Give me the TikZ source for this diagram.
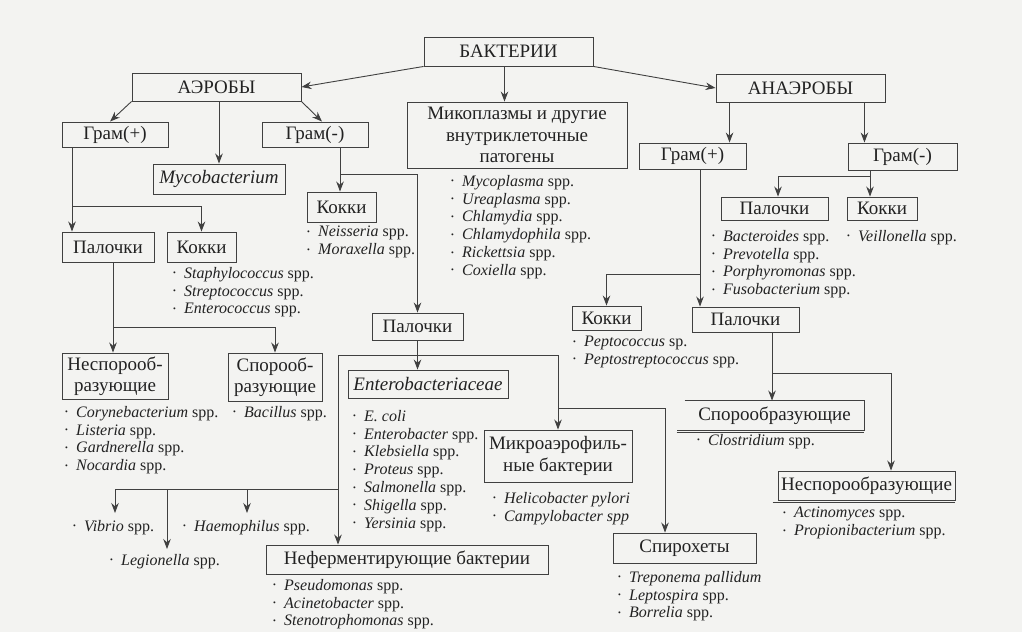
\documentclass[tikz,border=0pt]{standalone}
\usepackage{fontspec}
\setmainfont{Liberation Serif}
\usetikzlibrary{arrows.meta}
\definecolor{ink}{HTML}{222222}
\definecolor{wire}{HTML}{404040}
\definecolor{paper}{HTML}{F3F3F1}
\newcommand{\dotitem}{\makebox[11pt][l]{\raisebox{2.5pt}{\fontsize{8}{8}\selectfont•}}}

\begin{document}
\begin{tikzpicture}[x=1pt,y=-1pt,
  box/.style={draw=wire,line width=0.9pt,text=ink,inner sep=0pt,align=center,
    font=\fontsize{19}{21.5}\selectfont},
  spp/.style={anchor=north west,inner sep=0pt,align=left,text=ink,
    font=\fontsize{16}{17.8}\selectfont},
  link/.style={draw=wire,line width=0.9pt},
  arr/.style={link,-{Stealth[length=10pt,width=7.5pt]}}]
  \fill[paper] (0,0) rectangle (1022,632);
  \useasboundingbox (0,0) rectangle (1022,632);

  % top level
  \node[box,minimum width=169pt,minimum height=29pt] (bact) at (508.5,51.5) {БАКТЕРИИ};
  \node[box,minimum width=169pt,minimum height=28pt] (aer) at (216.5,87) {АЭРОБЫ};
  \node[box,minimum width=169pt,minimum height=28pt] (anaer) at (800.5,88) {АНАЭРОБЫ};
  \node[box,minimum width=220pt,minimum height=66pt] (myco) at (517,135) {Микоплазмы и другие\\внутриклеточные\\патогены};
  \node[spp] (mycol) at (451,175) {\dotitem\textit{Mycoplasma} spp.\\\dotitem\textit{Ureaplasma} spp.\\\dotitem\textit{Chlamydia} spp.\\\dotitem\textit{Chlamydophila} spp.\\\dotitem\textit{Rickettsia} spp.\\\dotitem\textit{Coxiella} spp.};

  % aerobes
  \node[box,minimum width=106pt,minimum height=25pt] (agp) at (115,134.5) {Грам(+)};
  \node[box,minimum width=132pt,minimum height=30pt] (mycob) at (219,179) {\textit{Mycobacterium}};
  \node[box,minimum width=106pt,minimum height=25pt] (agn) at (315,134.5) {Грам(-)};
  \node[box,minimum width=92pt,minimum height=30pt] (apal) at (108,247) {Палочки};
  \node[box,minimum width=69pt,minimum height=30pt] (akok) at (201.5,247) {Кокки};
  \node[spp] (akokl) at (173,267) {\dotitem\textit{Staphylococcus} spp.\\\dotitem\textit{Streptococcus} spp.\\\dotitem\textit{Enterococcus} spp.};
  \node[box,minimum width=69pt,minimum height=30pt] (ankok) at (341.5,207) {Кокки};
  \node[spp] (ankokl) at (307,226) {\dotitem\textit{Neisseria} spp.\\\dotitem\textit{Moraxella} spp.};
  \node[box,minimum width=106pt,minimum height=46pt] (nsp1) at (115,376) {Неспорооб-\\разующие};
  \node[spp] (nsp1l) at (65,406) {\dotitem\textit{Corynebacterium} spp.\\\dotitem\textit{Listeria} spp.\\\dotitem\textit{Gardnerella} spp.\\\dotitem\textit{Nocardia} spp.};
  \node[box,minimum width=94pt,minimum height=48pt] (sp1) at (275,377) {Спорооб-\\разующие};
  \node[spp] (sp1l) at (233,406) {\dotitem\textit{Bacillus} spp.};
  \node[box,minimum width=91pt,minimum height=27pt] (anpal) at (417.5,326.5) {Палочки};
  \node[box,minimum width=160pt,minimum height=28pt] (entero) at (428,384) {\textit{Enterobacteriaceae}};
  \node[spp] (enterol) at (353,410) {\dotitem\textit{E. coli}\\\dotitem\textit{Enterobacter} spp.\\\dotitem\textit{Klebsiella} spp.\\\dotitem\textit{Proteus} spp.\\\dotitem\textit{Salmonella} spp.\\\dotitem\textit{Shigella} spp.\\\dotitem\textit{Yersinia} spp.};
  \node[box,minimum width=148pt,minimum height=52pt] (mae) at (558,456) {Микроаэрофиль-\\ные бактерии};
  \node[spp] (mael) at (493,492) {\dotitem\textit{Helicobacter pylori}\\\dotitem\textit{Campylobacter spp}};
  \node[spp] (vib) at (73,520) {\dotitem\textit{Vibrio} spp.};
  \node[spp] (leg) at (110,554) {\dotitem\textit{Legionella} spp.};
  \node[spp] (haem) at (183,520) {\dotitem\textit{Haemophilus} spp.};
  \node[box,minimum width=282pt,minimum height=29pt] (nfer) at (407,559.5) {Неферментирующие бактерии};
  \node[spp] (nferl) at (273,579) {\dotitem\textit{Pseudomonas} spp.\\\dotitem\textit{Acinetobacter} spp.\\\dotitem\textit{Stenotrophomonas} spp.};
  \node[box,minimum width=143pt,minimum height=30pt] (spiro) at (684.5,548) {Спирохеты};
  \node[spp] (spirol) at (618,571) {\dotitem\textit{Treponema pallidum}\\\dotitem\textit{Leptospira} spp.\\\dotitem\textit{Borrelia} spp.};

  % anaerobes
  \node[box,minimum width=107pt,minimum height=26pt] (gpa) at (692.5,156) {Грам(+)};
  \node[box,minimum width=109pt,minimum height=27pt] (gna) at (902.5,156.5) {Грам(-)};
  \node[box,minimum width=107pt,minimum height=23pt] (bpal) at (774.5,208.5) {Палочки};
  \node[spp] (bpall) at (712,230) {\dotitem\textit{Bacteroides} spp.\\\dotitem\textit{Prevotella} spp.\\\dotitem\textit{Porphyromonas} spp.\\\dotitem\textit{Fusobacterium} spp.};
  \node[box,minimum width=70pt,minimum height=23pt] (bkok) at (882,208.5) {Кокки};
  \node[spp] (bkokl) at (847,230) {\dotitem\textit{Veillonella} spp.};
  \node[box,minimum width=69pt,minimum height=24pt] (ckok) at (606.5,318) {Кокки};
  \node[spp] (ckokl) at (573,336) {\dotitem\textit{Peptococcus} sp.\\\dotitem\textit{Peptostreptococcus} spp.};
  \node[box,minimum width=107pt,minimum height=25pt] (cpal) at (745.5,319.5) {Палочки};
  \node[box,draw=none,minimum width=179pt,minimum height=29pt] (spor2) at (774.5,415.5) {Спорообразующие};
  \draw[link] (spor2.north west) -- (spor2.north east) -- (spor2.south east) -- ([xshift=-8pt]spor2.south west);
  \draw[link,line width=0.6pt] ([xshift=-8pt,yshift=-2pt]spor2.south west) -- ([yshift=-2pt]spor2.south east);
  \node[spp] (spor2l) at (697,434) {\dotitem\textit{Clostridium} spp.};
  \node[box,minimum width=177pt,minimum height=29pt] (nspor2) at (866.5,485.5) {Неспорообразующие};
  \draw[link,line width=0.6pt] ([xshift=-5pt,yshift=-2pt]nspor2.south west) -- ([yshift=-2pt]nspor2.south east);
  \node[spp] (nspor2l) at (783,507) {\dotitem\textit{Actinomyces} spp.\\\dotitem\textit{Propionibacterium} spp.};

  % junctions
  \coordinate (ja) at (72,206);
  \coordinate (jb) at (113,327);
  \coordinate (jc) at (340,174);
  \coordinate (jd) at (338,355);
  \coordinate (je) at (558,355);
  \coordinate (jf) at (115,489);
  \coordinate (jg) at (558,408);
  \coordinate (jh) at (870,176);
  \coordinate (ji) at (700,274);
  \coordinate (jj) at (772,373);
  \coordinate (vibend) at (115,513);
  \coordinate (legend) at (167,549);
  \coordinate (haemend) at (247,513);

  \draw[arr] (bact.south west) -- (aer.east);
  \draw[arr] (bact.south east) -- (anaer.west);
  \draw[arr] ([xshift=-4pt]bact.south) -- ([xshift=-4pt]bact.south |- myco.north);
  \draw[arr] (aer.south west) -- ([xshift=-5pt]agp.north);
  \draw[arr] ([xshift=2.5pt]aer.south) -- ([xshift=2.5pt]aer.south |- mycob.north);
  \draw[arr] (aer.south east) -- ([xshift=7pt]agn.north);
  \draw[arr] (ja |- agp.south) -- (ja |- apal.north);
  \draw[arr] (ja) -| (akok.north);
  \draw[arr] (jb |- apal.south) -- (jb |- nsp1.north);
  \draw[arr] (jb) -| (sp1.north);
  \draw[arr] (jc |- agn.south) -- (jc |- ankok.north);
  \draw[arr] (jc) -| (anpal.north);
  \draw[arr] (anpal.south) -- (anpal.south |- entero.north);
  \draw[link] (jd) -- (je);
  \draw[arr] (jd) -- (jd |- nfer.north);
  \draw[link] (jf) -- (jf -| jd);
  \draw[arr] (jf) -- (vibend);
  \draw[arr] (legend |- jf) -- (legend);
  \draw[arr] (haemend |- jf) -- (haemend);
  \draw[arr] (je) -- (je |- mae.north);
  \draw[arr] (jg) -| ([xshift=-19.5pt]spiro.north);

  \draw[arr] ([xshift=14pt]anaer.south west) -- ([xshift=14pt]anaer.south west |- gpa.north);
  \draw[arr] ([xshift=-21pt]anaer.south east) -- ([xshift=-21pt]anaer.south east |- gna.north);
  \draw[arr] (jh |- gna.south) -- (jh |- bkok.north);
  \draw[arr] (jh) -| ([xshift=3.5pt]bpal.north);
  \draw[arr] (ji |- gpa.south) -- (ji |- cpal.north);
  \draw[arr] (ji) -| (ckok.north);
  \draw[arr] (jj |- cpal.south) -- (jj |- spor2.north);
  \draw[arr] (jj) -| ([xshift=24.5pt]nspor2.north);
\end{tikzpicture}
\end{document}
